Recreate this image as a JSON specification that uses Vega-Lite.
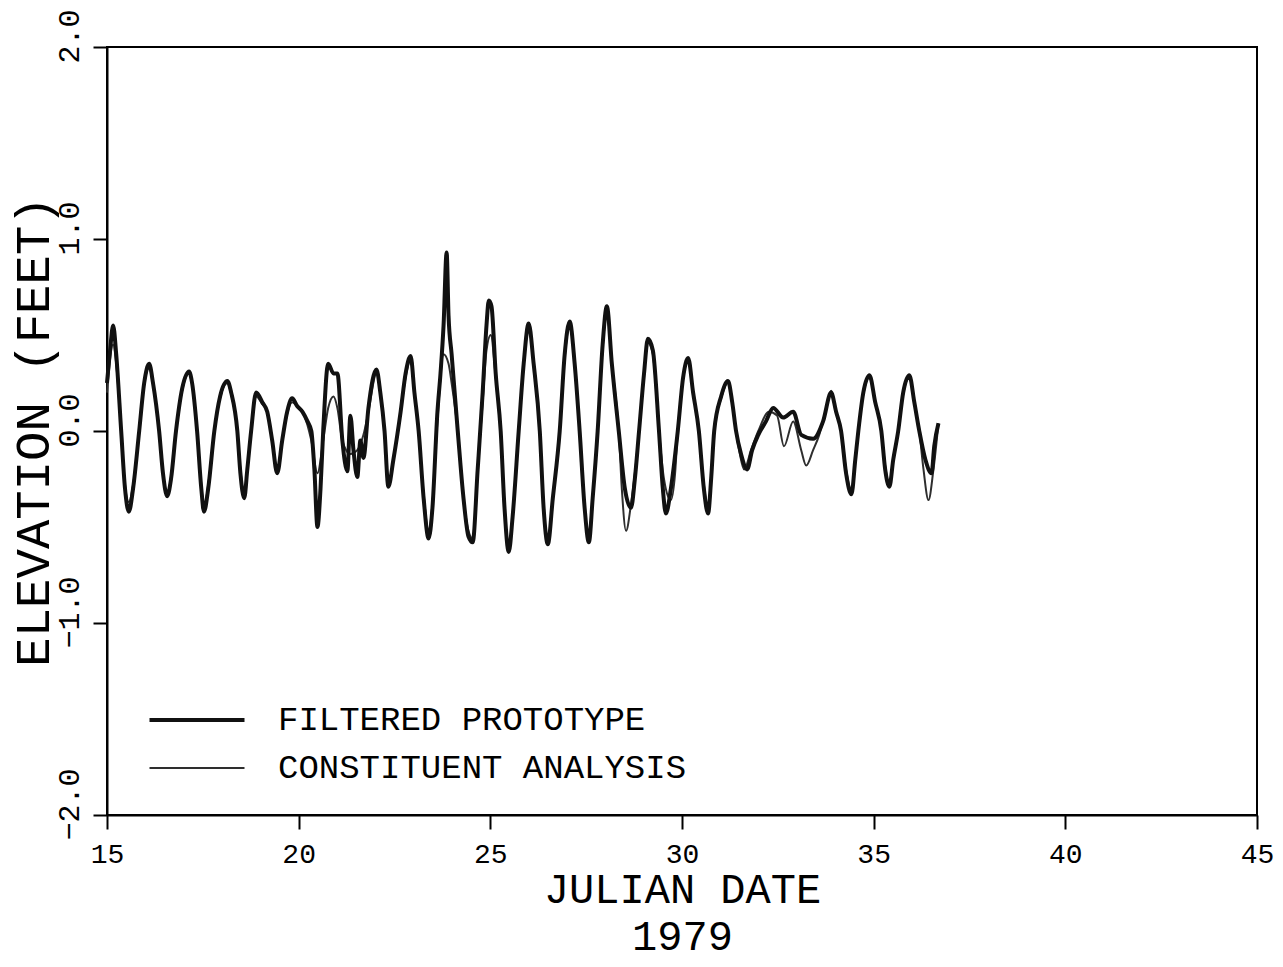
{
  "$schema": "https://vega.github.io/schema/vega-lite/v6.json",
  "autosize": {"type": "none"},
  "padding": {"left": 107, "top": 47, "right": 26, "bottom": 152},
  "width": 1150,
  "height": 768,
  "background": "white",
  "datasets": {
    "F": [
      {"day":15.00,"elev":0.25},{"day":15.08,"elev":0.42},{"day":15.16,"elev":0.55},{"day":15.24,"elev":0.40},{"day":15.37,"elev":0.00},{"day":15.47,"elev":-0.30},{"day":15.57,"elev":-0.42},{"day":15.68,"elev":-0.30},{"day":15.84,"elev":0.00},{"day":15.97,"elev":0.25},
      {"day":16.10,"elev":0.35},{"day":16.20,"elev":0.25},{"day":16.36,"elev":0.00},{"day":16.46,"elev":-0.22},{"day":16.57,"elev":-0.34},{"day":16.67,"elev":-0.25},{"day":16.80,"elev":0.00},{"day":16.96,"elev":0.22},{"day":17.14,"elev":0.31},{"day":17.22,"elev":0.25},
      {"day":17.35,"elev":0.00},{"day":17.46,"elev":-0.30},{"day":17.53,"elev":-0.42},{"day":17.64,"elev":-0.30},{"day":17.80,"elev":0.00},{"day":17.95,"elev":0.18},{"day":18.14,"elev":0.26},{"day":18.24,"elev":0.20},{"day":18.40,"elev":0.00},{"day":18.48,"elev":-0.22},
      {"day":18.58,"elev":-0.35},{"day":18.66,"elev":-0.20},{"day":18.76,"elev":0.00},{"day":18.89,"elev":0.20},{"day":19.05,"elev":0.15},{"day":19.18,"elev":0.10},{"day":19.31,"elev":-0.05},{"day":19.44,"elev":-0.22},{"day":19.57,"elev":-0.05},{"day":19.70,"elev":0.10},
      {"day":19.83,"elev":0.17},{"day":19.96,"elev":0.13},{"day":20.10,"elev":0.10},{"day":20.23,"elev":0.05},{"day":20.33,"elev":0.00},{"day":20.41,"elev":-0.20},{"day":20.49,"elev":-0.50},{"day":20.57,"elev":-0.30},{"day":20.64,"elev":0.00},{"day":20.77,"elev":0.35},
      {"day":20.91,"elev":0.30},{"day":21.01,"elev":0.30},{"day":21.14,"elev":-0.05},{"day":21.27,"elev":-0.21},{"day":21.35,"elev":0.08},{"day":21.43,"elev":-0.10},{"day":21.53,"elev":-0.24},{"day":21.61,"elev":-0.05},{"day":21.69,"elev":-0.14},{"day":21.82,"elev":0.12},
      {"day":22.03,"elev":0.32},{"day":22.13,"elev":0.20},{"day":22.24,"elev":0.00},{"day":22.34,"elev":-0.29},{"day":22.47,"elev":-0.15},{"day":22.66,"elev":0.10},{"day":22.79,"elev":0.30},{"day":22.92,"elev":0.39},{"day":23.02,"elev":0.20},{"day":23.13,"elev":0.00},
      {"day":23.26,"elev":-0.35},{"day":23.39,"elev":-0.56},{"day":23.49,"elev":-0.40},{"day":23.62,"elev":0.10},{"day":23.70,"elev":0.30},{"day":23.78,"elev":0.55},{"day":23.86,"elev":0.93},{"day":23.91,"elev":0.60},{"day":23.99,"elev":0.40},{"day":24.15,"elev":0.00},
      {"day":24.30,"elev":-0.35},{"day":24.43,"elev":-0.55},{"day":24.54,"elev":-0.58},{"day":24.67,"elev":-0.20},{"day":24.80,"elev":0.20},{"day":24.90,"elev":0.55},{"day":24.96,"elev":0.68},{"day":25.03,"elev":0.65},{"day":25.14,"elev":0.30},{"day":25.27,"elev":0.00},
      {"day":25.37,"elev":-0.40},{"day":25.48,"elev":-0.63},{"day":25.58,"elev":-0.45},{"day":25.74,"elev":0.00},{"day":25.87,"elev":0.35},{"day":26.00,"elev":0.56},{"day":26.13,"elev":0.35},{"day":26.29,"elev":0.00},{"day":26.39,"elev":-0.40},{"day":26.50,"elev":-0.59},
      {"day":26.63,"elev":-0.35},{"day":26.81,"elev":0.00},{"day":26.94,"elev":0.40},{"day":27.07,"elev":0.57},{"day":27.20,"elev":0.35},{"day":27.33,"elev":0.00},{"day":27.46,"elev":-0.40},{"day":27.57,"elev":-0.58},{"day":27.67,"elev":-0.35},{"day":27.80,"elev":0.00},
      {"day":27.93,"elev":0.45},{"day":28.04,"elev":0.65},{"day":28.17,"elev":0.35},{"day":28.35,"elev":0.00},{"day":28.51,"elev":-0.30},{"day":28.67,"elev":-0.40},{"day":28.77,"elev":-0.25},{"day":28.88,"elev":0.00},{"day":29.01,"elev":0.30},{"day":29.11,"elev":0.48},
      {"day":29.24,"elev":0.42},{"day":29.40,"elev":0.00},{"day":29.50,"elev":-0.30},{"day":29.58,"elev":-0.43},{"day":29.71,"elev":-0.30},{"day":29.89,"elev":0.00},{"day":30.03,"elev":0.28},{"day":30.16,"elev":0.38},{"day":30.29,"elev":0.20},{"day":30.44,"elev":0.00},
      {"day":30.57,"elev":-0.30},{"day":30.68,"elev":-0.43},{"day":30.76,"elev":-0.25},{"day":30.84,"elev":0.00},{"day":31.02,"elev":0.18},{"day":31.20,"elev":0.26},{"day":31.31,"elev":0.15},{"day":31.41,"elev":0.00},{"day":31.54,"elev":-0.12},{"day":31.70,"elev":-0.20},
      {"day":31.83,"elev":-0.10},{"day":31.99,"elev":-0.02},{"day":32.19,"elev":0.05},{"day":32.38,"elev":0.12},{"day":32.64,"elev":0.07},{"day":32.90,"elev":0.10},{"day":33.11,"elev":-0.02},{"day":33.42,"elev":-0.04},{"day":33.68,"elev":0.05},{"day":33.89,"elev":0.20},
      {"day":34.02,"elev":0.10},{"day":34.15,"elev":0.00},{"day":34.28,"elev":-0.22},{"day":34.42,"elev":-0.33},{"day":34.52,"elev":-0.15},{"day":34.60,"elev":0.00},{"day":34.73,"elev":0.20},{"day":34.89,"elev":0.29},{"day":35.04,"elev":0.15},{"day":35.20,"elev":0.00},
      {"day":35.30,"elev":-0.20},{"day":35.41,"elev":-0.29},{"day":35.51,"elev":-0.15},{"day":35.64,"elev":0.00},{"day":35.77,"elev":0.20},{"day":35.93,"elev":0.29},{"day":36.06,"elev":0.15},{"day":36.19,"elev":0.00},{"day":36.35,"elev":-0.15},{"day":36.51,"elev":-0.22},
      {"day":36.58,"elev":-0.08},{"day":36.69,"elev":0.04}
    ],
    "C": [
      {"day":15.00,"elev":0.20},{"day":15.16,"elev":0.45},{"day":15.24,"elev":0.35},{"day":15.37,"elev":0.00},{"day":15.47,"elev":-0.28},{"day":15.57,"elev":-0.37},{"day":15.68,"elev":-0.28},{"day":15.84,"elev":0.00},{"day":15.97,"elev":0.24},{"day":16.10,"elev":0.33},
      {"day":16.20,"elev":0.24},{"day":16.36,"elev":0.00},{"day":16.46,"elev":-0.22},{"day":16.57,"elev":-0.32},{"day":16.67,"elev":-0.24},{"day":16.80,"elev":0.00},{"day":16.96,"elev":0.21},{"day":17.14,"elev":0.30},{"day":17.22,"elev":0.24},{"day":17.35,"elev":0.00},
      {"day":17.46,"elev":-0.28},{"day":17.53,"elev":-0.40},{"day":17.64,"elev":-0.28},{"day":17.80,"elev":0.00},{"day":17.95,"elev":0.17},{"day":18.14,"elev":0.25},{"day":18.24,"elev":0.19},{"day":18.40,"elev":0.00},{"day":18.48,"elev":-0.20},{"day":18.58,"elev":-0.33},
      {"day":18.66,"elev":-0.20},{"day":18.76,"elev":0.00},{"day":18.89,"elev":0.18},{"day":19.05,"elev":0.14},{"day":19.18,"elev":0.10},{"day":19.31,"elev":-0.05},{"day":19.44,"elev":-0.20},{"day":19.57,"elev":-0.05},{"day":19.70,"elev":0.09},{"day":19.83,"elev":0.15},
      {"day":19.96,"elev":0.13},{"day":20.10,"elev":0.10},{"day":20.23,"elev":0.03},{"day":20.33,"elev":-0.05},{"day":20.49,"elev":-0.22},{"day":20.64,"elev":-0.05},{"day":20.77,"elev":0.12},{"day":20.91,"elev":0.18},{"day":21.01,"elev":0.12},{"day":21.14,"elev":-0.05},
      {"day":21.35,"elev":-0.12},{"day":21.53,"elev":-0.10},{"day":21.69,"elev":-0.02},{"day":21.82,"elev":0.10},{"day":22.03,"elev":0.30},{"day":22.13,"elev":0.20},{"day":22.24,"elev":0.00},{"day":22.34,"elev":-0.27},{"day":22.47,"elev":-0.15},{"day":22.66,"elev":0.10},
      {"day":22.79,"elev":0.28},{"day":22.92,"elev":0.37},{"day":23.02,"elev":0.20},{"day":23.13,"elev":0.00},{"day":23.26,"elev":-0.33},{"day":23.39,"elev":-0.52},{"day":23.49,"elev":-0.38},{"day":23.62,"elev":0.05},{"day":23.78,"elev":0.40},{"day":23.91,"elev":0.35},
      {"day":23.99,"elev":0.25},{"day":24.15,"elev":0.00},{"day":24.30,"elev":-0.35},{"day":24.43,"elev":-0.52},{"day":24.54,"elev":-0.56},{"day":24.67,"elev":-0.20},{"day":24.80,"elev":0.15},{"day":24.90,"elev":0.42},{"day":25.01,"elev":0.50},{"day":25.14,"elev":0.28},
      {"day":25.27,"elev":0.00},{"day":25.37,"elev":-0.40},{"day":25.48,"elev":-0.60},{"day":25.58,"elev":-0.44},{"day":25.74,"elev":0.00},{"day":25.87,"elev":0.34},{"day":26.00,"elev":0.54},{"day":26.13,"elev":0.35},{"day":26.29,"elev":0.00},{"day":26.39,"elev":-0.40},
      {"day":26.50,"elev":-0.57},{"day":26.63,"elev":-0.35},{"day":26.81,"elev":0.00},{"day":26.94,"elev":0.38},{"day":27.07,"elev":0.55},{"day":27.20,"elev":0.35},{"day":27.33,"elev":0.00},{"day":27.46,"elev":-0.40},{"day":27.57,"elev":-0.56},{"day":27.67,"elev":-0.35},
      {"day":27.80,"elev":0.00},{"day":27.93,"elev":0.43},{"day":28.04,"elev":0.62},{"day":28.17,"elev":0.35},{"day":28.35,"elev":0.00},{"day":28.43,"elev":-0.30},{"day":28.54,"elev":-0.52},{"day":28.67,"elev":-0.38},{"day":28.77,"elev":-0.22},{"day":28.88,"elev":0.00},
      {"day":29.01,"elev":0.30},{"day":29.11,"elev":0.46},{"day":29.24,"elev":0.40},{"day":29.40,"elev":0.00},{"day":29.53,"elev":-0.25},{"day":29.71,"elev":-0.36},{"day":29.82,"elev":-0.22},{"day":29.89,"elev":0.00},{"day":30.03,"elev":0.27},{"day":30.16,"elev":0.37},
      {"day":30.29,"elev":0.20},{"day":30.44,"elev":0.00},{"day":30.57,"elev":-0.28},{"day":30.68,"elev":-0.40},{"day":30.76,"elev":-0.24},{"day":30.84,"elev":0.00},{"day":31.02,"elev":0.17},{"day":31.20,"elev":0.25},{"day":31.31,"elev":0.15},{"day":31.41,"elev":0.00},
      {"day":31.51,"elev":-0.12},{"day":31.62,"elev":-0.20},{"day":31.80,"elev":-0.10},{"day":31.99,"elev":0.00},{"day":32.27,"elev":0.10},{"day":32.48,"elev":0.08},{"day":32.66,"elev":-0.08},{"day":32.90,"elev":0.05},{"day":33.11,"elev":-0.10},{"day":33.24,"elev":-0.18},
      {"day":33.42,"elev":-0.10},{"day":33.58,"elev":-0.02},{"day":33.74,"elev":0.10},{"day":33.89,"elev":0.21},{"day":34.02,"elev":0.10},{"day":34.15,"elev":0.00},{"day":34.28,"elev":-0.20},{"day":34.42,"elev":-0.31},{"day":34.52,"elev":-0.15},{"day":34.60,"elev":0.00},
      {"day":34.73,"elev":0.19},{"day":34.89,"elev":0.28},{"day":35.04,"elev":0.15},{"day":35.20,"elev":0.00},{"day":35.30,"elev":-0.18},{"day":35.41,"elev":-0.28},{"day":35.51,"elev":-0.15},{"day":35.64,"elev":0.00},{"day":35.77,"elev":0.19},{"day":35.93,"elev":0.28},
      {"day":36.06,"elev":0.15},{"day":36.19,"elev":0.00},{"day":36.30,"elev":-0.20},{"day":36.43,"elev":-0.36},{"day":36.56,"elev":-0.20},{"day":36.69,"elev":0.04}
    ]
  },
  "layer": [
    {
      "mark": {"type": "rule", "color": "black", "strokeWidth": 2},
      "encoding": {"y": {"datum": 0, "type": "quantitative"}}
    },
    {
      "data": {"name": "C"},
      "mark": {"type": "line", "interpolate": "monotone"},
      "encoding": {
        "x": {"field": "day", "type": "quantitative"},
        "y": {"field": "elev", "type": "quantitative"},
        "color": {"datum": "CONSTITUENT ANALYSIS"},
        "strokeWidth": {"datum": "CONSTITUENT ANALYSIS"}
      }
    },
    {
      "data": {"name": "F"},
      "mark": {"type": "line", "interpolate": "monotone"},
      "encoding": {
        "x": {
          "field": "day", "type": "quantitative",
          "scale": {"domain": [15, 45], "nice": false, "zero": false},
          "axis": {
            "values": [15, 20, 25, 30, 35, 40, 45],
            "title": ["JULIAN DATE", "1979"],
            "titleFontSize": 42,
            "titleLineHeight": 47,
            "titlePadding": 1,
            "labelPadding": 11,
            "labelFontSize": 28
          }
        },
        "y": {
          "field": "elev", "type": "quantitative",
          "scale": {"domain": [-2, 2], "nice": false, "zero": false},
          "axis": {
            "values": [-2, -1, 0, 1, 2],
            "format": ".1f",
            "title": "ELEVATION (FEET)",
            "titleFontSize": 49,
            "labelAngle": 270,
            "labelAlign": "center",
            "labelBaseline": "alphabetic",
            "labelOffset": -11,
            "labelPadding": 15,
            "labelFontSize": 30,
            "titlePadding": -4
          }
        },
        "color": {
          "datum": "FILTERED PROTOTYPE",
          "type": "nominal",
          "scale": {"domain": ["FILTERED PROTOTYPE", "CONSTITUENT ANALYSIS"], "range": ["#111111", "#2e2e2e"]},
          "legend": {
            "title": null,
            "orient": "none",
            "legendX": 64,
            "legendY": 647,
            "padding": 0,
            "symbolType": "M-2,0L2,0",
            "symbolSize": 2256,
            "labelOffset": 55,
            "rowPadding": 6,
            "labelFont": "Liberation Mono",
            "labelFontSize": 34,
            "labelColor": "black",
            "labelLimit": 0
          }
        },
        "strokeWidth": {
          "datum": "FILTERED PROTOTYPE",
          "type": "nominal",
          "scale": {"domain": ["FILTERED PROTOTYPE", "CONSTITUENT ANALYSIS"], "range": [4, 2]}
        }
      }
    }
  ],
  "config": {
    "view": {"stroke": "black", "strokeWidth": 2},
    "font": "Liberation Mono",
    "axis": {
      "grid": false,
      "domainColor": "black",
      "domainWidth": 2,
      "tickColor": "black",
      "tickWidth": 2,
      "tickSize": 14,
      "labelColor": "black",
      "labelFont": "Liberation Mono",
      "labelFlush": false,
      "labelOverlap": false,
      "labelBound": false,
      "titleColor": "black",
      "titleFont": "Liberation Mono",
      "titleFontSize": 50,
      "titleFontWeight": "normal"
    }
  }
}
